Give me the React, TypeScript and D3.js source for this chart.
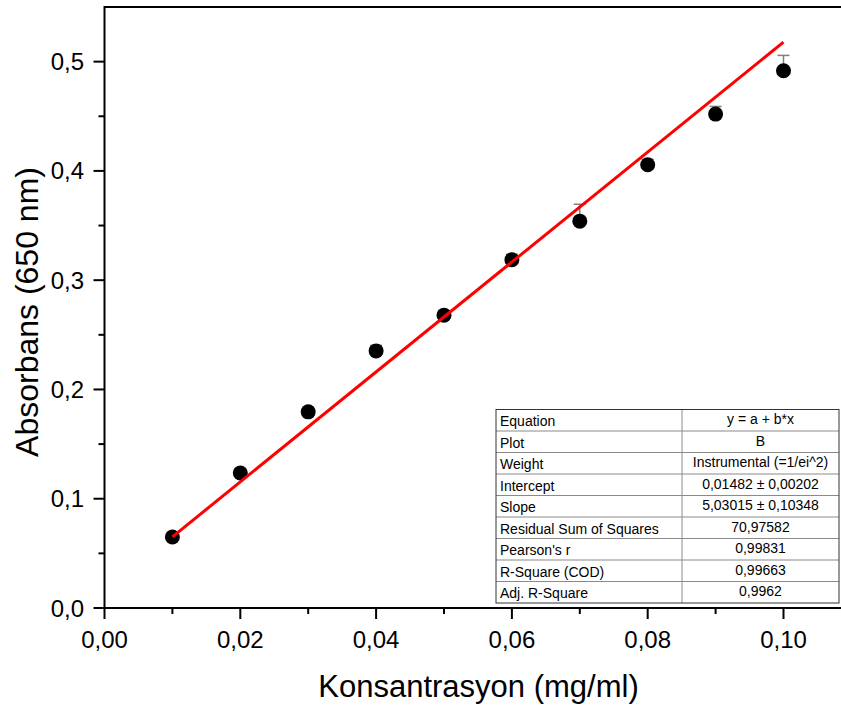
import React from "react";
import * as d3 from "d3";

// Concentration (mg/ml) and measured absorbance at 650 nm
const concentrations = [0.01, 0.02, 0.03, 0.04, 0.05, 0.06, 0.07, 0.08, 0.09, 0.1];
const absorbances = [0.065, 0.1236, 0.1795, 0.2353, 0.268, 0.3187, 0.354, 0.4056, 0.452, 0.4917];
const errors = [0.004, 0.004, 0.004, 0.005, 0.004, 0.005, 0.0155, 0.005, 0.007, 0.014];

// Linear fit parameters
const fitIntercept = 0.01482;
const fitSlope = 5.03015;

const xTicks = [0, 0.02, 0.04, 0.06, 0.08, 0.1];
const xMinorTicks = [0.01, 0.03, 0.05, 0.07, 0.09];
const yTicks = [0, 0.1, 0.2, 0.3, 0.4, 0.5];
const yMinorTicks = [0.05, 0.15, 0.25, 0.35, 0.45];

const tableLabels = [
  "Equation",
  "Plot",
  "Weight",
  "Intercept",
  "Slope",
  "Residual Sum of Squares",
  "Pearson's r",
  "R-Square (COD)",
  "Adj. R-Square",
];
const tableValues = [
  "y = a + b*x",
  "B",
  "Instrumental (=1/ei^2)",
  "0,01482 ± 0,00202",
  "5,03015 ± 0,10348",
  "70,97582",
  "0,99831",
  "0,99663",
  "0,9962",
];

const W = 841;
const H = 708;
const left = 104.5;
const bottom = 608;
const top = 7;

const x = d3.scaleLinear().domain([0, 0.11]).range([left, left + 0.11 * 6790]);
const y = d3.scaleLinear().domain([0, 0.55]).range([bottom, top]);

const fmtX = (v: number) => d3.format(".2f")(v).replace(".", ",");
const fmtY = (v: number) => d3.format(".1f")(v).replace(".", ",");

const font = "'Liberation Sans', Arial, sans-serif";

export default function App() {
  const fitLine = d3
    .line<number>()
    .x((d) => x(d))
    .y((d) => y(fitIntercept + fitSlope * d));
  const fitX = [concentrations[0], concentrations[concentrations.length - 1]];

  // legend table geometry
  const tX = 496;
  const tY = 409.5;
  const tDiv = 682;
  const tR = 839;
  const rowH = (603 - tY) / tableLabels.length;

  return (
    <svg
      width={W}
      height={H}
      style={{ position: "absolute", left: 0, top: 0, background: "#fff" }}
      fontFamily={font}
    >
      <rect x={0} y={0} width={W} height={H} fill="#fff" />

      {/* error bars (upper side) */}
      {concentrations.map((c, i) => {
        const cx = x(c);
        const y0 = y(absorbances[i]);
        const y1 = y(absorbances[i] + errors[i]);
        return (
          <g key={"e" + i} stroke="#808080" strokeWidth={1.5}>
            <line x1={cx} x2={cx} y1={y0} y2={y1} />
            <line x1={cx - 6} x2={cx + 6} y1={y1} y2={y1} />
          </g>
        );
      })}

      {/* data points */}
      {concentrations.map((c, i) => (
        <circle key={"p" + i} cx={x(c)} cy={y(absorbances[i])} r={7.5} fill="#000" />
      ))}

      {/* linear fit */}
      <path d={fitLine(fitX) || ""} stroke="#ff0000" strokeWidth={3} fill="none" />

      {/* axes */}
      <line x1={left} x2={W} y1={bottom} y2={bottom} stroke="#000" strokeWidth={2} />
      <line x1={left} x2={W} y1={top} y2={top} stroke="#000" strokeWidth={2} />
      <line x1={left} x2={left} y1={top - 1} y2={bottom + 1} stroke="#000" strokeWidth={2} />

      {xTicks.map((t) => (
        <g key={"xt" + t}>
          <line x1={x(t)} x2={x(t)} y1={bottom} y2={bottom + 11} stroke="#000" strokeWidth={2} />
          <text x={x(t)} y={648} textAnchor="middle" fontSize={24} fill="#000">
            {fmtX(t)}
          </text>
        </g>
      ))}
      {xMinorTicks.map((t) => (
        <line key={"xm" + t} x1={x(t)} x2={x(t)} y1={bottom} y2={bottom + 6} stroke="#000" strokeWidth={2} />
      ))}

      {yTicks.map((t) => (
        <g key={"yt" + t}>
          <line x1={left - 11} x2={left} y1={y(t)} y2={y(t)} stroke="#000" strokeWidth={2} />
          <text x={84} y={y(t) + 8.5} textAnchor="end" fontSize={24} fill="#000">
            {fmtY(t)}
          </text>
        </g>
      ))}
      {yMinorTicks.map((t) => (
        <line key={"ym" + t} x1={left - 6} x2={left} y1={y(t)} y2={y(t)} stroke="#000" strokeWidth={2} />
      ))}

      {/* axis titles */}
      <text x={478.5} y={697} textAnchor="middle" fontSize={31} fill="#000">
        Konsantrasyon (mg/ml)
      </text>
      <text
        transform={`translate(38, 312) rotate(-90)`}
        textAnchor="middle"
        fontSize={32}
        fill="#000"
      >
        Absorbans (650 nm)
      </text>

      {/* fit statistics table */}
      <g>
        <rect x={tX} y={tY} width={tR - tX} height={rowH * tableLabels.length} fill="#fff" />
        {tableLabels.map((_, i) =>
          i > 0 ? (
            <line
              key={"rl" + i}
              x1={tX}
              x2={tR}
              y1={tY + i * rowH}
              y2={tY + i * rowH}
              stroke="#8a8a8a"
              strokeWidth={1}
            />
          ) : null
        )}
        <line x1={tDiv} x2={tDiv} y1={tY} y2={tY + rowH * tableLabels.length} stroke="#8a8a8a" strokeWidth={1} />
        <rect
          x={tX}
          y={tY}
          width={tR - tX}
          height={rowH * tableLabels.length}
          fill="none"
          stroke="#333"
          strokeWidth={1}
        />
        {tableLabels.map((lab, i) => (
          <text key={"tl" + i} x={tX + 4} y={tY + i * rowH + 16.5} fontSize={14} fill="#000">
            {lab}
          </text>
        ))}
        {tableValues.map((v, i) => (
          <text
            key={"tv" + i}
            x={(tDiv + tR) / 2}
            y={tY + i * rowH + 14.5}
            fontSize={14}
            textAnchor="middle"
            fill="#000"
          >
            {v}
          </text>
        ))}
      </g>
    </svg>
  );
}
